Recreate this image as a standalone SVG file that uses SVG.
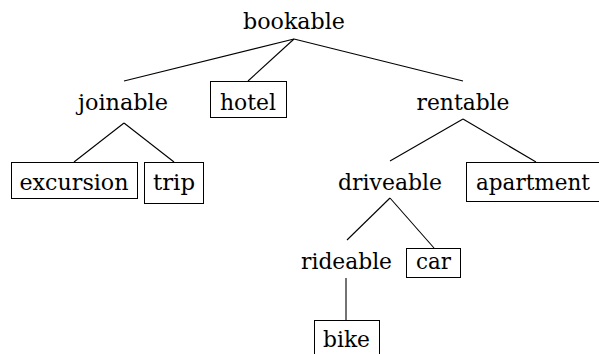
<svg xmlns="http://www.w3.org/2000/svg" width="599" height="354" viewBox="0 0 599 354">
<style>
text{font-size:23px;fill:#000;text-anchor:middle}
rect{fill:#fff;stroke:#000;stroke-width:1}
.c line{stroke:#000;stroke-width:1.1}
</style>
<rect x="0" y="0" width="599" height="354" style="stroke:none"/>
<g class="c">
<line x1="294" y1="39" x2="124" y2="81"/>
<line x1="294" y1="39" x2="248" y2="81"/>
<line x1="294" y1="39" x2="463" y2="81"/>
<line x1="124" y1="123" x2="74" y2="162"/>
<line x1="124" y1="123" x2="174" y2="162"/>
<line x1="463" y1="119" x2="390" y2="161"/>
<line x1="463" y1="119" x2="536" y2="162"/>
<line x1="390" y1="198" x2="347" y2="240"/>
<line x1="390" y1="198" x2="434" y2="248"/>
<line x1="346" y1="278" x2="346" y2="320"/>
</g>
<g font-family="'DejaVu Serif', 'Liberation Serif', serif">
<g id="bookable"><text x="294" y="29" textLength="102" lengthAdjust="spacingAndGlyphs">bookable</text></g>
<g id="joinable"><text x="123" y="110" textLength="90" lengthAdjust="spacingAndGlyphs">joinable</text></g>
<g id="hotel"><rect x="210.5" y="81.5" width="76" height="36"/><text x="248" y="110" textLength="56" lengthAdjust="spacingAndGlyphs">hotel</text></g>
<g id="rentable"><text x="463" y="110" textLength="93" lengthAdjust="spacingAndGlyphs">rentable</text></g>
<g id="excursion"><rect x="11.5" y="162.5" width="126" height="36"/><text x="74" y="190" textLength="109" lengthAdjust="spacingAndGlyphs">excursion</text></g>
<g id="trip"><rect x="144.5" y="162.5" width="59" height="41"/><text x="174" y="190" textLength="42" lengthAdjust="spacingAndGlyphs">trip</text></g>
<g id="driveable"><text x="390" y="190" textLength="104" lengthAdjust="spacingAndGlyphs">driveable</text></g>
<g id="apartment"><rect x="466.5" y="162.5" width="134" height="39"/><text x="533" y="190" textLength="114" lengthAdjust="spacingAndGlyphs">apartment</text></g>
<g id="rideable"><text x="346.5" y="269" textLength="91" lengthAdjust="spacingAndGlyphs">rideable</text></g>
<g id="car"><rect x="406.5" y="248.5" width="54" height="29"/><text x="433.5" y="269" textLength="35" lengthAdjust="spacingAndGlyphs">car</text></g>
<g id="bike"><rect x="314.5" y="320.5" width="65" height="40"/><text x="346.5" y="347" textLength="47" lengthAdjust="spacingAndGlyphs">bike</text></g>
</g>
</svg>
